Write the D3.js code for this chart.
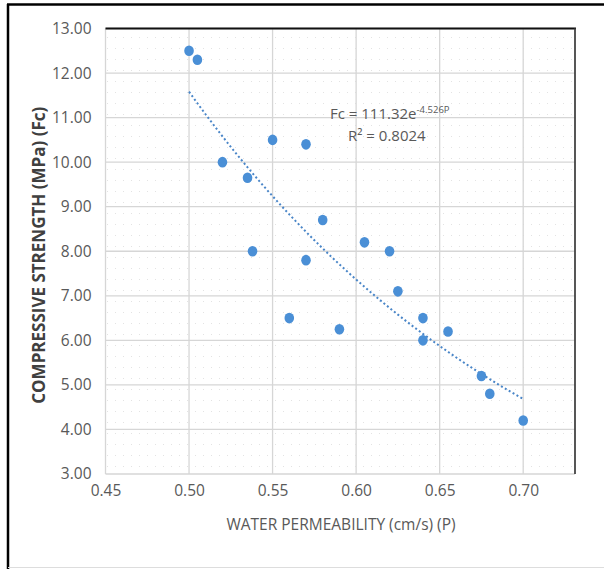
<!DOCTYPE html>
<html>
<head>
<meta charset="utf-8">
<script src="https://cdn.jsdelivr.net/npm/d3@7"></script>
<style>
  html, body { margin: 0; padding: 0; background: #fff; }
  svg { display: block; }
  text { font-family: "Open Sans", "DejaVu Sans Condensed", sans-serif; }
</style>
</head>
<body>
<svg id="chart" width="604" height="569"></svg>
<script>
// ---- data ----
const permeability = [0.500, 0.505, 0.520, 0.535, 0.538, 0.550, 0.560, 0.570, 0.570, 0.580, 0.590, 0.605, 0.620, 0.625, 0.640, 0.640, 0.655, 0.675, 0.680, 0.700];
const strength     = [12.50, 12.30, 10.00, 9.65,  8.00,  10.50, 6.50,  10.40, 7.80,  8.70,  6.25,  8.20,  8.00,  7.10,  6.50,  6.00,  6.20,  5.20,  4.80,  4.20];
const xTicks = [0.45, 0.50, 0.55, 0.60, 0.65, 0.70];
const yTicks = [3, 4, 5, 6, 7, 8, 9, 10, 11, 12, 13];
const trendA = 111.32, trendB = -4.526;
const trendRange = [0.50, 0.70];
const equationText = "Fc = 111.32e";
const equationExp = "-4.526P";
const r2Text = "R² = 0.8024";
const xTitle = "WATER PERMEABILITY (cm/s) (P)";
const yTitle = "COMPRESSIVE STRENGTH (MPa) (Fc)";

const svg = d3.select("#chart");
const plot = { left: 105.5, right: 575, top: 28.5, bottom: 474 };

const x = d3.scaleLinear().domain([0.45, 0.731]).range([plot.left, plot.right]);
const y = d3.scaleLinear().domain([3, 13]).range([plot.bottom, plot.top]);

// outer frame
svg.append("line").attr("x1", 7).attr("x2", 604).attr("y1", 4.5).attr("y2", 4.5).attr("stroke", "#000").attr("stroke-width", 2.5);
svg.append("line").attr("x1", 8).attr("x2", 8).attr("y1", 4).attr("y2", 569).attr("stroke", "#000").attr("stroke-width", 2.5);
svg.append("line").attr("x1", 8).attr("x2", 604).attr("y1", 567.5).attr("y2", 567.5).attr("stroke", "#ddd").attr("stroke-width", 1);

// dotted background pattern
const defs = svg.append("defs");
const pat = defs.append("pattern").attr("id", "dots").attr("patternUnits", "userSpaceOnUse")
  .attr("width", 8).attr("height", 11);
pat.append("rect").attr("x", 3).attr("y", 4).attr("width", 1).attr("height", 1).attr("fill", "#e3e3e3");
svg.append("rect").attr("x", plot.left).attr("y", plot.top)
  .attr("width", plot.right - plot.left).attr("height", plot.bottom - plot.top)
  .attr("fill", "url(#dots)");

// gridlines
const grid = svg.append("g");
grid.selectAll(".gy").data(yTicks).enter().append("line")
  .attr("x1", plot.left).attr("x2", plot.right)
  .attr("y1", d => y(d)).attr("y2", d => y(d))
  .attr("stroke", "#d6d6d6").attr("stroke-width", 1.3);
grid.selectAll(".gx").data(xTicks).enter().append("line")
  .attr("x1", d => x(d)).attr("x2", d => x(d))
  .attr("y1", plot.top).attr("y2", plot.bottom)
  .attr("stroke", "#d6d6d6").attr("stroke-width", 1.3);

// plot borders (top black, right dark)
svg.append("line").attr("x1", plot.left).attr("x2", plot.right + 1).attr("y1", plot.top).attr("y2", plot.top)
  .attr("stroke", "#111").attr("stroke-width", 2.2);
svg.append("line").attr("x1", plot.right).attr("x2", plot.right).attr("y1", plot.top).attr("y2", plot.bottom)
  .attr("stroke", "#444").attr("stroke-width", 1.8);

// axes (labels only)
const yAxis = d3.axisLeft(y).tickValues(yTicks).tickFormat(d3.format(".2f")).tickSize(0).tickPadding(14);
const gy = svg.append("g").attr("transform", `translate(${plot.left},0)`).call(yAxis);
gy.select(".domain").remove();
gy.selectAll("text").attr("fill", "#595959").style("font-size", "15.5px").style("font-family", "'Open Sans', sans-serif");

const xAxis = d3.axisBottom(x).tickValues(xTicks).tickFormat(d3.format(".2f")).tickSize(0).tickPadding(11);
const gx = svg.append("g").attr("transform", `translate(0,${plot.bottom})`).call(xAxis);
gx.select(".domain").remove();
gx.selectAll("text").attr("fill", "#595959").style("font-size", "15.5px").style("font-family", "'Open Sans', sans-serif");

// trendline
const trendPts = d3.range(0, 41).map(i => {
  const p = trendRange[0] + (trendRange[1] - trendRange[0]) * i / 40;
  return [p, trendA * Math.exp(trendB * p)];
});
svg.append("path").datum(trendPts)
  .attr("d", d3.line().x(d => x(d[0])).y(d => y(d[1])))
  .attr("fill", "none").attr("stroke", "#4a86c8").attr("stroke-width", 2)
  .attr("stroke-dasharray", "2,2.5");

// points
svg.selectAll(".pt").data(permeability.map((p, i) => [p, strength[i]])).enter().append("ellipse")
  .attr("cx", d => x(d[0])).attr("cy", d => y(d[1]))
  .attr("rx", 4.8).attr("ry", 5.3)
  .attr("fill", "#4a8fd6");

// equation + R2
const eq = svg.append("text").attr("x", 330).attr("y", 119).attr("fill", "#595959").style("font-size", "15px");
eq.append("tspan").text(equationText);
eq.append("tspan").attr("dy", -6).style("font-size", "9.5px").text(equationExp);
svg.append("text").attr("x", 348).attr("y", 141).attr("fill", "#595959").style("font-size", "15px").text(r2Text);

// axis titles
svg.append("text").attr("x", 341).attr("y", 530).attr("text-anchor", "middle")
  .attr("fill", "#595959").style("font-size", "15.5px").text(xTitle);
svg.append("text").attr("transform", `translate(45,${(plot.top + plot.bottom) / 2 + 4}) rotate(-90)`)
  .attr("text-anchor", "middle").attr("fill", "#404040").style("font-size", "17px").style("font-weight", "bold")
  .text(yTitle);
</script>
</body>
</html>
